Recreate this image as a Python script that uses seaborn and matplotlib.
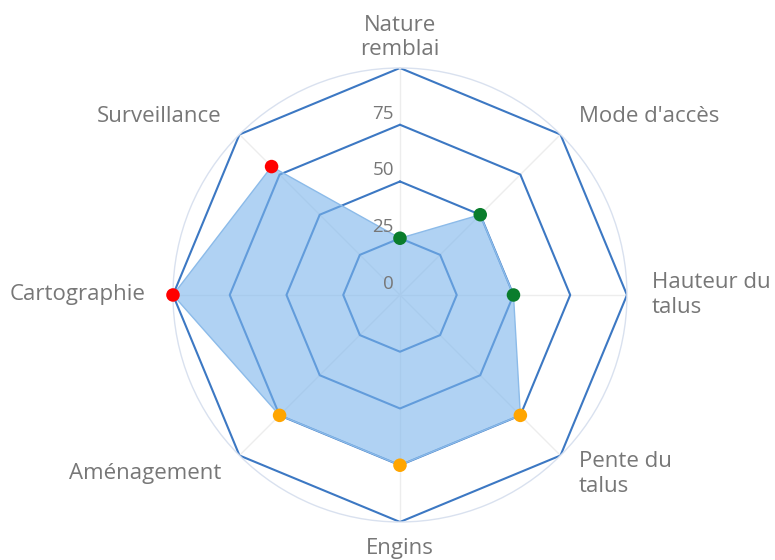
import numpy as np
import matplotlib
matplotlib.use("Agg")
import matplotlib.pyplot as plt
import seaborn as sns

# Data
categories = ["Nature\nremblai", "Mode d'accès", "Hauteur du\ntalus", "Pente du\ntalus",
              "Engins", "Aménagement", "Cartographie", "Surveillance"]
values = [25, 50, 50, 75, 75, 75, 100, 80]
levels = ["faible", "faible", "faible", "moyen", "moyen", "moyen", "élevé", "élevé"]
grid_values = [25, 50, 75, 100]
radial_labels = [0, 25, 50, 75]

level_colors = {"faible": "#0a7d2c", "moyen": "#ffa500", "élevé": "#ff0000"}

sns.set_style("white")
plt.rcParams['font.family'] = ['Open Sans', 'DejaVu Sans']

n = len(categories)
angles = np.arange(n) * 2 * np.pi / n

fig = plt.figure(figsize=(7.75, 5.6), dpi=100)
ax = fig.add_axes([0.2232, 0.0679, 0.5858, 0.8107], projection='polar')
ax.set_theta_zero_location('N')
ax.set_theta_direction(-1)
ax.set_ylim(0, 100)
ax.grid(False)
ax.set_xticks([])
ax.set_yticks([])
ax.spines['polar'].set_color('#d9e1ef')
ax.spines['polar'].set_linewidth(1.0)

# faint radial axis lines
for a in angles:
    ax.plot([a, a], [0, 100], color='#ededed', lw=1, zorder=1)

# octagonal grid
closed = np.append(angles, angles[0])
for g in grid_values:
    ax.plot(closed, [g] * (n + 1), color='#3c78c3', lw=1.5, zorder=2)

# series area
vals_closed = values + values[:1]
ax.fill(closed, vals_closed, color='#7cb5ec', alpha=0.6, zorder=3, lw=0)
ax.plot(closed, vals_closed, color='#8cbbe9', lw=1.0, zorder=4)

sns.scatterplot(x=angles, y=values, hue=levels, palette=level_colors, s=95,
                edgecolor='none', legend=False, ax=ax, zorder=5, clip_on=False)
ax.set_xlabel('')
ax.set_ylabel('')

# category labels
label_pos = [
    (113.5, 'center'),
    (111.5, 'left'),
    (111, 'left'),
    (111.5, 'left'),
    (111.5, 'center'),
    (111.5, 'right'),
    (112, 'right'),
    (111.5, 'right'),
]
for a, lab, (r, ha) in zip(angles, categories, label_pos):
    ax.text(a, r, lab, ha=ha, va='center', fontsize=16, color='#777777',
            multialignment='center' if ha == 'center' else 'left', linespacing=1.22)

# radial labels
for v in radial_labels:
    ax.annotate(str(v), xy=(0, v), xytext=(-6, 11), textcoords='offset pixels',
                ha='right', va='center', fontsize=13.5, color='#777777', zorder=6)

fig.savefig('out.png', dpi=100)
